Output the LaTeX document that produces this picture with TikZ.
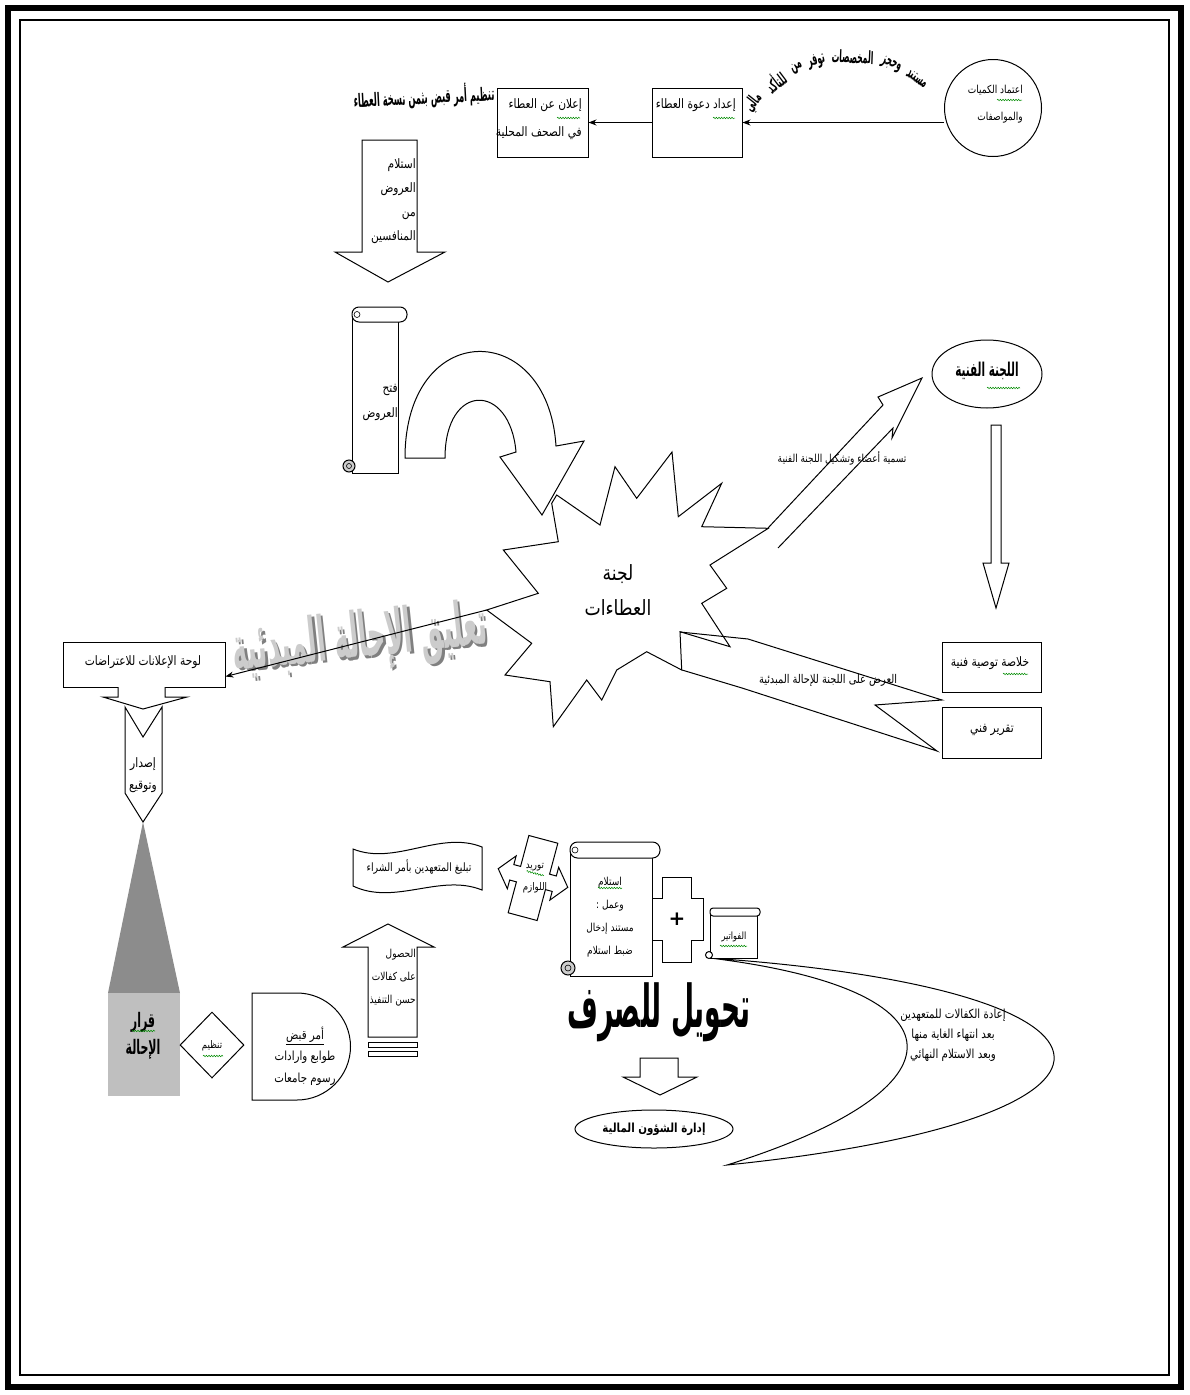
\documentclass[tikz,border=0pt]{standalone}
\usepackage{fontspec}
\usetikzlibrary{shapes.geometric,decorations.pathmorphing,arrows.meta,calc}
\TeXXeTstate=1
\newfontfamily\arfont[Script=Arabic,FakeStretch=0.82]{DejaVu Sans}
\newfontfamily\arcond[Script=Arabic,FakeStretch=0.72]{DejaVu Sans}
\newfontfamily\arheavy[Script=Arabic,FakeStretch=0.55]{DejaVu Sans}
\newfontfamily\arcurve[Script=Arabic,FakeStretch=0.45]{DejaVu Sans}
\newfontfamily\arnarrow[Script=Arabic,FakeStretch=0.4]{DejaVu Sans}
\newfontfamily\dejavu{DejaVu Sans}
\newcommand\AR[1]{\beginR#1\endR}
\begin{document}
\begin{tikzpicture}[x=1pt,y=-1pt,
  shp/.style={draw=black,line width=1pt,fill=white},
  shpo/.style={draw=black,line width=1pt},
  txt/.style={font=\arfont\fontsize{13}{15}\selectfont,inner sep=0pt,align=center},
  btxt/.style={font=\arcurve\bfseries\fontsize{17}{19}\selectfont,inner sep=0pt,align=center},
  arr/.style={draw=black,line width=1pt,-{Stealth[length=8pt,width=6pt]}},
  squig/.style={draw=green!55!black,line width=0.5pt,decorate,decoration={snake,amplitude=0.8pt,segment length=2.6pt}},
  box/.style={draw=black,line width=1pt,fill=white,rectangle,inner sep=0pt},
]
\useasboundingbox (0,0) rectangle (1189,1395);
\fill[white] (0,0) rectangle (1189,1395);
% frame
\draw[line width=6pt] (8,8) rectangle (1181,1387);
\draw[line width=2pt] (20,20) rectangle (1169,1375);

% ---------- top row ----------
\node[circle,draw,line width=1pt,minimum size=97pt,inner sep=0pt] (spec) at (993,108) {};
\node[txt,anchor=east,align=right,font=\arfont\fontsize{11}{27}\selectfont] (spect) at (1023,104) {\AR{اعتماد الكميات}\\\AR{والمواصفات}};
\draw[squig] (997,100) -- (1022,100);

\node[box,minimum width=90pt,minimum height=69pt] (invite) at (697,122.5) {};
\node[txt,anchor=east] (invitet) at (736,105) {\AR{إعداد دعوة العطاء}};
\draw[squig] (713,118) -- (735,118);

\node[box,minimum width=91pt,minimum height=69pt] (announce) at (542.5,122.5) {};
\node[txt,anchor=east,align=right,font=\arfont\fontsize{13}{28}\selectfont] (announcet) at (582,119) {\AR{إعلان عن العطاء}\\\AR{في الصحف المحلية}};
\draw[squig] (557,118) -- (580,118);

\draw[arr] (spec.west |- invite.east) -- (invite.east);
\draw[arr] (invite.west) -- (announce.east);

\node[btxt,font=\arcurve\bfseries\fontsize{18.5}{20}\selectfont,rotate=3] (receipt) at (424,97) {\AR{تنظيم أمر قبض بثمن نسخة العطاء}};

% curved text (WordArt arch)
\foreach \w/\a [count=\i] in {مالي/-51.5,للتأكد/-37,من/-25,توفر/-15.1,المخصصات/2.2,وحجز/20.9,مستند/34.8}{
  \node[btxt,rotate=-\a] (arc\i) at ({848+121*sin(\a)},{178-121*cos(\a)}) {\AR{\w}};
}

% ---------- receive offers arrow ----------
\draw[shp] (362,140) -- (417,140) -- (417,252) -- (445,252) -- (388,282) -- (335,252) -- (362,252) -- cycle;
\node[txt,anchor=east,align=right,font=\arfont\fontsize{13}{24}\selectfont] (recvt) at (416,201) {\AR{استلام}\\\AR{العروض}\\\AR{من}\\\AR{المنافسين}};

% ---------- open offers scroll ----------
\draw[shp] (352,314) rectangle (398,473);
\draw[shp,rounded corners=7pt] (352,307) rectangle (407,322);
\draw[line width=0.6pt] (357,314.5) circle (3);
\draw[shp,fill=black!20] (349,466) circle (6);
\draw[line width=0.6pt] (349,466) circle (2.5);
\node[txt,anchor=east,align=right,font=\arfont\fontsize{13}{25}\selectfont] (opent) at (398,402) {\AR{فتح}\\\AR{العروض}};

% ---------- star ----------
\draw[shp] (551.7,503.3) -- (558.3,541.7) -- (503.3,550) -- (538.3,593.3) -- (486.7,610) -- (531.7,643.3) -- (505,675) -- (550,681.7) -- (553.3,726.7) -- (586.7,680) -- (601.7,700) -- (616.7,670) -- (646.7,651.7) -- (681.7,670) -- (680,631.7) -- (730,646.7) -- (701.7,603.3) -- (726.7,588.3) -- (710,565) -- (768.3,528.3) -- (701.7,526.7) -- (721.7,483.3) -- (678.3,516.7) -- (672,452) -- (636.7,498.3) -- (615,466.7) -- (600,525) -- (556.7,495) -- cycle;
\coordinate (starL) at (486.7,610);
\node[font=\arfont\fontsize{21}{35}\selectfont,inner sep=0pt,align=center] (comt) at (618,590) {\AR{لجنة}\\\AR{العطاءات}};

% U-turn arrow
\draw[shp] (405,458) .. controls (405,318) and (548,318) .. (556,446) -- (584,441) -- (542,515) -- (500,457) -- (516,452) .. controls (510,382) and (445,382) .. (445,458) -- cycle;

% rising arrow to technical committee
\draw[shpo] (768,528) -- (883,405) -- (878,397) -- (922,378) -- (892,438) -- (893,428) -- (778,548);
\node[txt,font=\arfont\fontsize{11}{13}\selectfont] (namet) at (842,458) {\AR{تسمية أعضاء وتشكيل اللجنة الفنية}};

\node[ellipse,draw,line width=1pt,minimum width=110pt,minimum height=68pt,inner sep=0pt] (tech) at (987,374) {};
\node[font=\arheavy\bfseries\fontsize{19}{21}\selectfont,inner sep=0pt] (techt) at (987,371) {\AR{اللجنة الفنية}};
\draw[squig] (987,388) -- (1020,388);

\draw[shp] (991,425) -- (1001,425) -- (1001,563) -- (1009,563) -- (996,608) -- (983,563) -- (991,563) -- cycle;

\node[box,minimum width=99pt,minimum height=50pt] (summary) at (991.5,667) {};
\node[txt] (summaryt) at (990,663) {\AR{خلاصة توصية فنية}};
\draw[squig] (1003,674) -- (1028,674);
\node[box,minimum width=99pt,minimum height=51pt] (report) at (991.5,732.5) {};
\node[txt] (reportt) at (992,730) {\AR{تقرير فني}};

% callout arrow back to the committee
\draw[shpo] (680,632) -- (748,639) -- (942,700) -- (875,705) -- (937,751) -- (742,688) -- (682,670);
\node[txt,font=\arfont\fontsize{12}{14}\selectfont] (presentt) at (828,680) {\AR{العرض على اللجنة للإحالة المبدئية}};

% ---------- left column ----------
\node[font=\arnarrow\bfseries\fontsize{62}{62}\selectfont,text=black!50,rotate=6,inner sep=0pt] (wmshadow) at (362.5,643.5) {\AR{تعليق الإحالة المبدئية}};
\node[font=\arnarrow\bfseries\fontsize{62}{62}\selectfont,text=black!20,rotate=6,inner sep=0pt] (wm) at (360,641) {\AR{تعليق الإحالة المبدئية}};

\node[box,minimum width=162pt,minimum height=45pt] (board) at (144,664.5) {};
\node[txt] (boardt) at (143,662) {\AR{لوحة الإعلانات للاعتراضات}};
\draw[arr] (starL) -- ($(board.east)+(0,12)$);

\draw[shp] (118,687) -- (118,697) -- (103,697) -- (143,709) -- (187,697) -- (165,697) -- (165,687);
\draw[shp] (125,707) -- (143,737) -- (162,707) -- (162,793) -- (143,822) -- (125,793) -- cycle;
\node[txt,font=\arfont\fontsize{13}{22}\selectfont] (issuet) at (143,775) {\AR{إصدار}\\\AR{وتوقيع}};

\fill[black!45] (143,822) -- (180,993) -- (108,993) -- cycle;
\node[fill=black!25,minimum width=72pt,minimum height=103pt,inner sep=0pt] (decision) at (144,1044) {};
\node[font=\arheavy\bfseries\fontsize{20}{27}\selectfont,inner sep=0pt,align=center] (decisiont) at (143,1036) {\AR{قرار}\\\AR{الإحالة}};
\draw[squig] (132,1031) -- (155,1031);

\node[diamond,draw,line width=1pt,minimum width=64pt,minimum height=66pt,inner sep=0pt] (org) at (212,1045) {};
\node[txt,font=\arfont\fontsize{10.5}{12}\selectfont] (orgt) at (212,1046) {\AR{تنظيم}};
\draw[squig] (203,1056) -- (223,1056);

\draw[shp] (252,993) -- (297,993) .. controls (326.5,993) and (350.5,1017) .. (350.5,1046.5) .. controls (350.5,1076) and (326.5,1100) .. (297,1100) -- (252,1100) -- cycle;
\node[txt,font=\arfont\fontsize{12.5}{15}\selectfont] (stamp1) at (305,1035) {\AR{أمر قبض}};
\draw[line width=0.7pt] ($(stamp1.south west)+(0,1.5)$) -- ($(stamp1.south east)+(0,1.5)$);
\node[txt,font=\arfont\fontsize{12.5}{15}\selectfont] (stamp2) at (305,1057) {\AR{طوابع وارادات}};
\node[txt,font=\arfont\fontsize{12.5}{15}\selectfont] (stamp3) at (305,1079) {\AR{رسوم جامعات}};

% guarantees arrow
\draw[shp] (368,1037) -- (368,947) -- (343,947) -- (388,924) -- (434,947) -- (417,947) -- (417,1037) -- cycle;
\draw[shp] (368,1042) rectangle (417,1047);
\draw[shp] (368,1051) rectangle (417,1056);
\node[txt,anchor=east,align=right,font=\arfont\fontsize{11}{23}\selectfont] (guart) at (416,978) {\AR{الحصول}\\\AR{على كفالات}\\\AR{حسن التنفيذ}};

% banner
\draw[shp] (353,849) .. controls (395,866) and (440,830) .. (482,847) -- (482,890) .. controls (440,873) and (395,906) .. (353,886) -- cycle;
\node[txt,font=\arfont\fontsize{11.5}{13}\selectfont] (notifyt) at (419,867) {\AR{تبليغ المتعهدين بأمر الشراء}};

% supply quad arrow
\begin{scope}[shift={(533,878)},rotate=-15]
\draw[shp] (-15,-40) -- (15,-40) -- (15,-8) -- (22,-8) -- (22,-17) -- (36,0) -- (22,17) -- (22,8) -- (15,8) -- (15,40) -- (-15,40) -- (-15,8) -- (-22,8) -- (-22,17) -- (-36,0) -- (-22,-17) -- (-22,-8) -- (-15,-8) -- cycle;
\node[txt,font=\arfont\fontsize{10.5}{22}\selectfont] (supplyt) at (2,0) {\AR{توريد}\\\AR{اللوازم}};
\draw[squig] (-8,-5) -- (10,-5);
\end{scope}

% big scroll
\draw[shp] (570,850) rectangle (652,976);
\draw[shp,rounded corners=7.5pt] (570,842) rectangle (660,858);
\draw[line width=0.6pt] (575,850) circle (3);
\draw[shp,fill=black!20] (568,968) circle (7);
\draw[line width=0.6pt] (568,968) circle (3);
\node[txt,font=\arfont\fontsize{11}{23}\selectfont] (recvgoodst) at (610,917) {\AR{استلام}\\\AR{وعمل :}\\\AR{مستند إدخال}\\\AR{ضبط استلام}};
\draw[squig] (598,888) -- (622,888);

% plus shape
\draw[shp] (662,877) -- (691,877) -- (691,898) -- (703,898) -- (703,940) -- (691,940) -- (691,962) -- (662,962) -- (662,940) -- (652,940) -- (652,898) -- (662,898) -- cycle;
\node[font=\dejavu\bfseries\fontsize{20}{20}\selectfont,inner sep=0pt] (plus) at (677,919) {+};

% crescent
\draw[shp] (710,958) .. controls (1166,990) and (1166,1120) .. (727,1165) .. controls (970,1089) and (970,990) .. (710,958) -- cycle;
\node[txt,font=\arfont\fontsize{12.5}{20}\selectfont] (returnt) at (953,1035) {\AR{إعادة الكفالات للمتعهدين}\\\AR{بعد انتهاء الغاية منها}\\\AR{وبعد الاستلام النهائي}};

% invoices scroll
\draw[shp] (710,912) rectangle (757,958);
\draw[shp,rounded corners=3pt] (710,908) rectangle (760,916);
\draw[shp] (709,955) circle (3.5);
\node[txt,font=\arfont\fontsize{10}{12}\selectfont] (invt) at (734,937) {\AR{الفواتير}};
\draw[squig] (720,946) -- (747,946);

% transfer
\node[font=\arcurve\bfseries\fontsize{59}{60}\selectfont,inner sep=0pt] (transfer) at (659,1012) {\AR{تحويل للصرف}};
\draw[shp] (640,1058) -- (678,1058) -- (678,1077) -- (697,1077) -- (660,1095) -- (623,1077) -- (640,1077) -- cycle;
\node[ellipse,draw,line width=1pt,minimum width=158pt,minimum height=38pt,inner sep=0pt] (fin) at (654,1129) {};
\node[font=\arfont\bfseries\fontsize{12.5}{14}\selectfont,inner sep=0pt] (fint) at (654,1129) {\AR{إدارة الشؤون المالية}};
\end{tikzpicture}
\end{document}
